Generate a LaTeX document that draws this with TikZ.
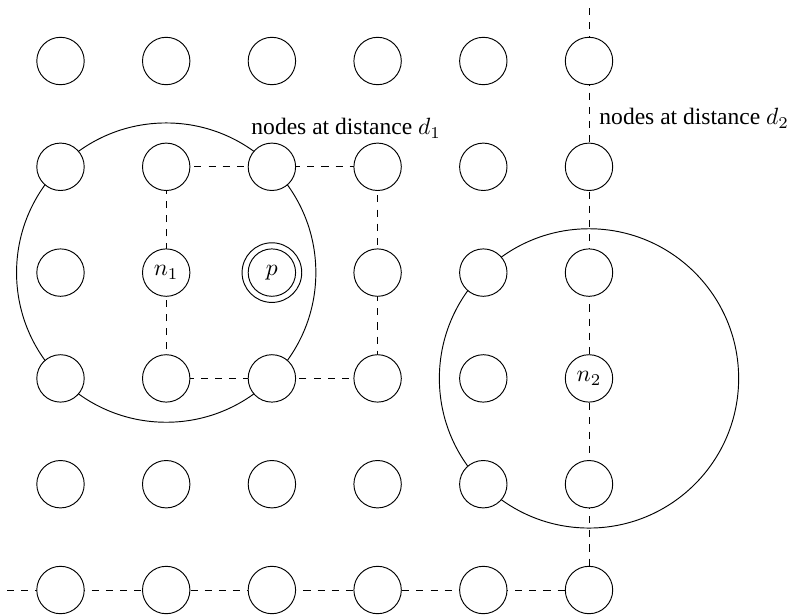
\documentclass[tikz,border=0pt]{standalone}
\usepackage{fontspec}
\setmainfont{Liberation Serif}
\usetikzlibrary{backgrounds}
\begin{document}
\begin{tikzpicture}[x=0.425pt,y=-0.425pt,
  gnode/.style={circle,draw,fill=white,minimum size=20.15pt,inner sep=0pt},
  ringnode/.style={circle,draw,minimum size=25.35pt,inner sep=0pt},
  conn/.style={dashed},
  bigcirc/.style={draw},
  lbl/.style={anchor=base west,inner sep=0pt}]
\useasboundingbox (0,0) rectangle (794,615);
\foreach \i/\x in {1/60.5,2/166.2,3/271.9,4/377.6,5/483.3,6/589.0}{
  \foreach \j/\y in {1/61,2/166.8,3/272.6,4/378.4,5/484.2,6/590.0}{
    \def\t{}
    \ifnum\i\j=23 \def\t{$n_1$}\fi
    \ifnum\i\j=33 \def\t{$p$}\fi
    \ifnum\i\j=64 \def\t{$n_2$}\fi
    \node[gnode] (c\i\j) at (\x,\y) {\t};
  }
}
\node[ringnode] (pring) at (c33) {};
\coordinate (L) at (7,590.0);
\coordinate (T) at (589.0,8);
\node[lbl] (l1) at (251,134.5) {nodes at distance $d_1$};
\node[lbl] (l2) at (599,124.5) {nodes at distance $d_2$};
\begin{scope}[on background layer]
  \draw[bigcirc] (c23.center) circle[radius=63.6pt];
  \draw[bigcirc] (c64.center) circle[radius=63.6pt];
  \draw[conn] (c22.center) -- (c42.center) -- (c44.center) -- (c24.center) -- cycle;
  \draw[conn] (L) -- (c66.center);
  \draw[conn] (T) -- (c66.center);
\end{scope}
\end{tikzpicture}
\end{document}
